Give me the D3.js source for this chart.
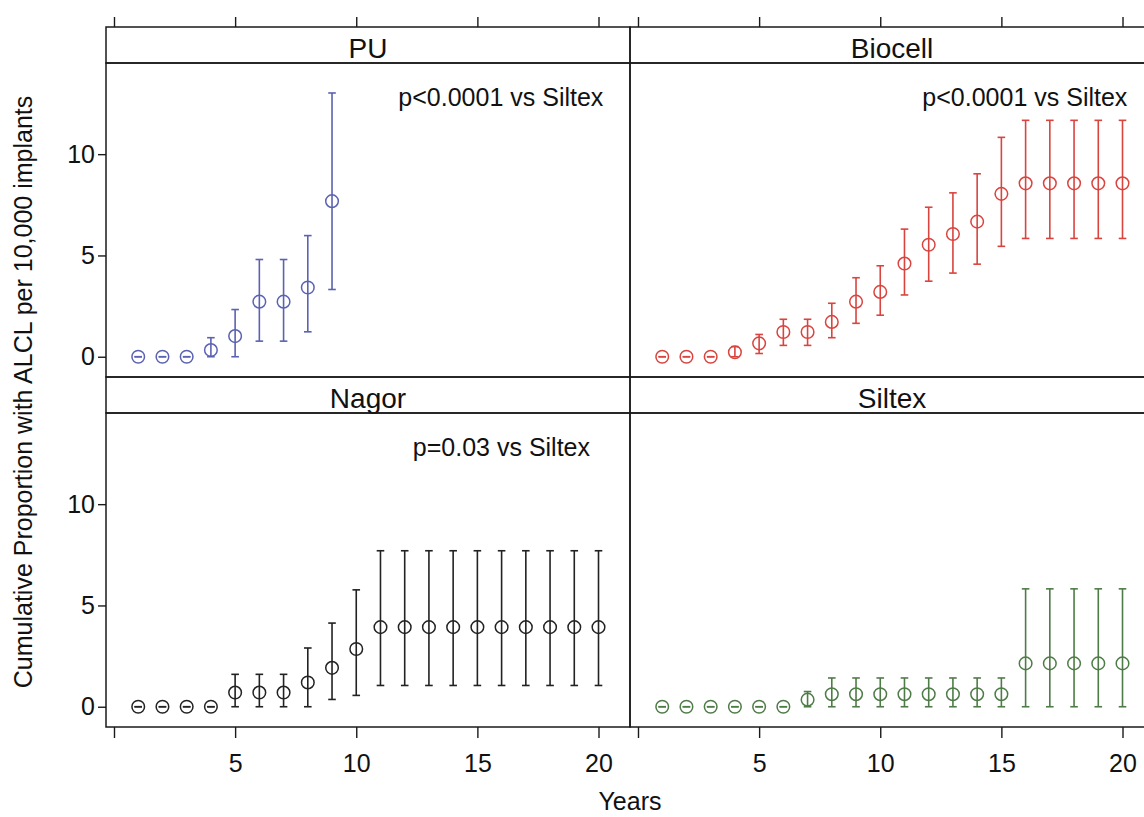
<!DOCTYPE html>
<html>
<head>
<meta charset="utf-8">
<script src="https://cdn.jsdelivr.net/npm/d3@7"></script>
<style>
body { margin: 0; background: #fff; }
svg text { font-family: "Liberation Sans", Arial, sans-serif; fill: #111; }
</style>
</head>
<body>
<svg id="chart" width="1144" height="817"></svg>
<script>
// years of follow-up
const years = d3.range(1, 21);

// cumulative proportion per 10,000 implants (estimate, lower, upper)
const puEst = [0, 0, 0, 0.33, 1.02, 2.72, 2.72, 3.42, 7.68];
const puLo  = [0, 0, 0, 0, 0, 0.77, 0.77, 1.23, 3.32];
const puHi  = [0, 0, 0, 0.94, 2.33, 4.8, 4.8, 5.98, 13.02];

const biocellEst = [0, 0, 0, 0.22, 0.66, 1.22, 1.22, 1.72, 2.72, 3.2, 4.6, 5.53, 6.06, 6.67, 8.04, 8.56, 8.56, 8.56, 8.56, 8.56];
const biocellLo  = [0, 0, 0, 0, 0.16, 0.56, 0.56, 0.94, 1.65, 2.05, 3.05, 3.73, 4.13, 4.57, 5.45, 5.84, 5.84, 5.84, 5.84, 5.84];
const biocellHi  = [0, 0, 0, 0.5, 1.1, 1.85, 1.85, 2.64, 3.9, 4.49, 6.3, 7.38, 8.09, 9.03, 10.83, 11.67, 11.67, 11.67, 11.67, 11.67];

const nagorEst = [0, 0, 0, 0, 0.7, 0.7, 0.7, 1.2, 1.92, 2.85, 3.93, 3.93, 3.93, 3.93, 3.93, 3.93, 3.93, 3.93, 3.93, 3.93];
const nagorLo  = [0, 0, 0, 0, 0, 0, 0, 0, 0.36, 0.56, 1.05, 1.05, 1.05, 1.05, 1.05, 1.05, 1.05, 1.05, 1.05, 1.05];
const nagorHi  = [0, 0, 0, 0, 1.6, 1.6, 1.6, 2.9, 4.13, 5.77, 7.7, 7.7, 7.7, 7.7, 7.7, 7.7, 7.7, 7.7, 7.7, 7.7];

const siltexEst = [0, 0, 0, 0, 0, 0, 0.35, 0.62, 0.62, 0.62, 0.62, 0.62, 0.62, 0.62, 0.62, 2.14, 2.14, 2.14, 2.14, 2.14];
const siltexLo  = [0, 0, 0, 0, 0, 0, 0, 0, 0, 0, 0, 0, 0, 0, 0, 0, 0, 0, 0, 0];
const siltexHi  = [0, 0, 0, 0, 0, 0, 0.75, 1.42, 1.42, 1.42, 1.42, 1.42, 1.42, 1.42, 1.42, 5.82, 5.82, 5.82, 5.82, 5.82];

const panelNames  = ['PU', 'Biocell', 'Nagor', 'Siltex'];
const panelColors = ['#5b62b2', '#d9443e', '#222222', '#4e7c46'];
const panelNotes  = ['p<0.0001 vs Siltex', 'p<0.0001 vs Siltex', 'p=0.03 vs Siltex', ''];
const noteX = [20.2, 20.2, 19.65, 0];   // in years
const noteY = 12.4;

const xTicks = [0, 5, 10, 15, 20];
const yTicks = [0, 5, 10];

const ests = [puEst, biocellEst, nagorEst, siltexEst];
const los  = [puLo, biocellLo, nagorLo, siltexLo];
const his  = [puHi, biocellHi, nagorHi, siltexHi];

// layout
const padLeft = 106, padTop = 27, panelW = 524, stripH = 36, plotH = 314;
const ink = '#1a1a1a';

const svg = d3.select('#chart');

const x = d3.scaleLinear().domain([-0.33, 21.3]).range([0, panelW]);
const y = d3.scaleLinear().domain([-1, 14.5]).range([plotH, 0]);

function rowTop(r) { return padTop + r * (stripH + plotH); }

panelNames.forEach((name, i) => {
	const col = i % 2, row = Math.floor(i / 2);
	const px = padLeft + col * panelW;
	const py = rowTop(row) + stripH;
	const color = panelColors[i];

	const data = ests[i].map((e, k) => ({ year: years[k], est: e, lo: los[i][k], hi: his[i][k] }));

	// strip
	const strip = svg.append('g').attr('transform', `translate(${px},${rowTop(row)})`);
	strip.append('rect')
		.attr('width', panelW).attr('height', stripH)
		.attr('fill', 'none').attr('stroke', ink).attr('stroke-width', 1.5);
	strip.append('text')
		.attr('x', panelW / 2).attr('y', stripH - 5)
		.attr('text-anchor', 'middle')
		.style('font-size', '28px')
		.text(name);

	const g = svg.append('g').attr('transform', `translate(${px},${py})`);

	// error bars
	const bars = g.append('g').attr('stroke', color).attr('stroke-width', 1.6).attr('fill', 'none');
	bars.selectAll('line.v').data(data).enter().append('line')
		.attr('class', 'v')
		.attr('x1', d => x(d.year)).attr('x2', d => x(d.year))
		.attr('y1', d => y(d.lo)).attr('y2', d => y(d.hi));
	['lo', 'hi'].forEach(k => {
		bars.selectAll('line.' + k).data(data).enter().append('line')
			.attr('class', k)
			.attr('x1', d => x(d.year) - 3.8).attr('x2', d => x(d.year) + 3.8)
			.attr('y1', d => y(d[k])).attr('y2', d => y(d[k]));
	});

	// points
	g.append('g').selectAll('circle').data(data).enter().append('circle')
		.attr('cx', d => x(d.year)).attr('cy', d => y(d.est))
		.attr('r', 6.3)
		.attr('fill', 'none').attr('stroke', color).attr('stroke-width', 1.5);

	// p value
	if (panelNotes[i]) {
		g.append('text')
			.attr('x', x(noteX[i])).attr('y', y(noteY))
			.attr('text-anchor', 'end')
			.style('font-size', '25px')
			.text(panelNotes[i]);
	}

	// panel border
	g.append('rect')
		.attr('width', panelW).attr('height', plotH)
		.attr('fill', 'none').attr('stroke', ink).attr('stroke-width', 1.5);

	// axes
	if (row === 0) {
		const ax = svg.append('g')
			.attr('transform', `translate(${px},${padTop})`)
			.call(d3.axisTop(x).tickValues(xTicks).tickSize(10).tickFormat(''));
		ax.select('.domain').remove();
	}
	if (row === 1) {
		const ax = svg.append('g')
			.attr('transform', `translate(${px},${py + plotH})`)
			.call(d3.axisBottom(x).tickValues(xTicks).tickSize(11).tickPadding(16)
				.tickFormat(d => d === 0 ? '' : d));
		ax.select('.domain').remove();
		ax.selectAll('text').style('font-size', '25px');
	}
	if (col === 0) {
		const ax = svg.append('g')
			.attr('transform', `translate(${px},${py})`)
			.call(d3.axisLeft(y).tickValues(yTicks).tickSize(8).tickPadding(3));
		ax.select('.domain').remove();
		ax.selectAll('text').style('font-size', '25px');
	}
});

svg.selectAll('.tick line').attr('stroke', ink).attr('stroke-width', 1.4);
svg.selectAll('.tick text').attr('fill', '#111');

// axis titles
svg.append('text')
	.attr('transform', 'translate(32,392) rotate(-90)')
	.attr('text-anchor', 'middle')
	.style('font-size', '25px')
	.text('Cumulative Proportion with ALCL per 10,000 implants');

svg.append('text')
	.attr('x', padLeft + panelW).attr('y', 810)
	.attr('text-anchor', 'middle')
	.style('font-size', '25px')
	.text('Years');
</script>
</body>
</html>
